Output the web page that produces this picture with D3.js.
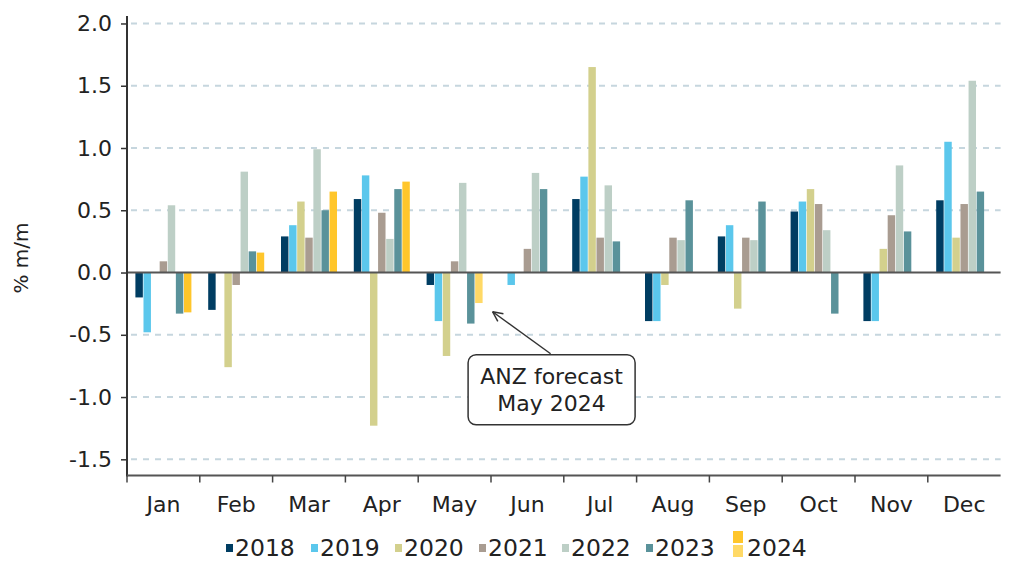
<!DOCTYPE html>
<html>
<head>
<meta charset="utf-8">
<script src="https://cdn.jsdelivr.net/npm/d3@7"></script>
<style>
  html, body { margin: 0; padding: 0; background: #fff; }
  svg { display: block; font-family: "DejaVu Sans", Verdana, sans-serif; }
</style>
</head>
<body>
<svg id="chart" width="1009" height="561"></svg>
<script>
const months = ["Jan","Feb","Mar","Apr","May","Jun","Jul","Aug","Sep","Oct","Nov","Dec"];
const years = ["2018","2019","2020","2021","2022","2023","2024"];
const v2018 = [-0.20, -0.30, 0.29, 0.59, -0.10, 0.00, 0.59, -0.39, 0.29, 0.49, -0.39, 0.58];
const v2019 = [-0.48, 0.00, 0.38, 0.78, -0.39, -0.10, 0.77, -0.39, 0.38, 0.57, -0.39, 1.05];
const v2020 = [0.00, -0.76, 0.57, -1.23, -0.67, 0.00, 1.65, -0.10, -0.29, 0.67, 0.19, 0.28];
const v2021 = [0.09, -0.10, 0.28, 0.48, 0.09, 0.19, 0.28, 0.28, 0.28, 0.55, 0.46, 0.55];
const v2022 = [0.54, 0.81, 0.99, 0.27, 0.72, 0.80, 0.70, 0.26, 0.26, 0.34, 0.86, 1.54];
const v2023 = [-0.33, 0.17, 0.50, 0.67, -0.41, 0.67, 0.25, 0.58, 0.57, -0.33, 0.33, 0.65];
const v2024 = [-0.32, 0.16, 0.65, 0.73, -0.245, null, null, null, null, null, null, null];
const forecastMonths2024 = ["May"];
const yTicks = [-1.5, -1.0, -0.5, 0.0, 0.5, 1.0, 1.5, 2.0];
const yTitle = "% m/m";
const calloutLines = ["ANZ forecast", "May 2024"];

const seriesValues = { "2018": v2018, "2019": v2019, "2020": v2020, "2021": v2021, "2022": v2022, "2023": v2023, "2024": v2024 };
const colors = { "2018": "#003D62", "2019": "#5BC7EC", "2020": "#D3D08D", "2021": "#A99C91", "2022": "#BDCFC6", "2023": "#5A929A", "2024": "#FFC62B" };
const forecastColor = "#FFD966";

const svg = d3.select("#chart");
const mLeft = 127, mRight = 1000.6, mTop = 16, mBottom = 475.5;

const x0 = d3.scaleBand().domain(months).range([mLeft, mRight]).padding(0);
const x1 = d3.scaleBand().domain(years).range([8.4, x0.bandwidth() - 8.4]).paddingInner(0.08);
const y = d3.scaleLinear().domain([-1.63, 2.06]).range([mBottom, mTop]);

// gridlines
svg.append("g").selectAll("line").data(yTicks.filter(d => d !== 0)).join("line")
  .attr("x1", mLeft + 4).attr("x2", mRight)
  .attr("y1", d => y(d)).attr("y2", d => y(d))
  .attr("stroke", "#C6D6DE").attr("stroke-width", 2).attr("stroke-dasharray", "6,6");

// bars
const data = [];
months.forEach((m, i) => {
  years.forEach(yr => {
    const v = seriesValues[yr][i];
    if (v !== null && v !== 0) data.push({ m, yr, v, fc: yr === "2024" && forecastMonths2024.includes(m) });
  });
});
svg.append("g").selectAll("rect").data(data).join("rect")
  .attr("x", d => x0(d.m) + x1(d.yr))
  .attr("width", x1.bandwidth())
  .attr("y", d => y(Math.max(0, d.v)))
  .attr("height", d => Math.abs(y(d.v) - y(0)))
  .attr("fill", d => d.fc ? forecastColor : colors[d.yr]);

// zero line
svg.append("line").attr("x1", mLeft).attr("x2", mRight).attr("y1", y(0)).attr("y2", y(0))
  .attr("stroke", "#555").attr("stroke-width", 2);

// y axis
const fmt = d => d3.format(".1f")(d).replace("\u2212", "-");
const yAxis = svg.append("g").attr("transform", `translate(${mLeft},0)`)
  .call(d3.axisLeft(y).tickValues(yTicks).tickFormat(fmt).tickSize(6).tickPadding(9));
yAxis.select(".domain").remove();
yAxis.selectAll(".tick line").attr("stroke", "#333").attr("stroke-width", 1.5);
yAxis.selectAll(".tick text").attr("font-size", 22).attr("fill", "#222").attr("font-family", "DejaVu Sans");
svg.append("line").attr("x1", mLeft).attr("x2", mLeft).attr("y1", mTop).attr("y2", mBottom + 1)
  .attr("stroke", "#333").attr("stroke-width", 2);

// x axis
const xAxisG = svg.append("g").attr("transform", `translate(0,${mBottom})`);
xAxisG.append("line").attr("x1", mLeft).attr("x2", mRight).attr("stroke", "#555").attr("stroke-width", 2);
xAxisG.selectAll("line.tk").data(months).join("line").attr("class", "tk")
  .attr("x1", d => x0(d)).attr("x2", d => x0(d)).attr("y1", 0).attr("y2", 7)
  .attr("stroke", "#444").attr("stroke-width", 1.5);
xAxisG.selectAll("text").data(months).join("text")
  .attr("x", d => x0(d) + x0.bandwidth() / 2).attr("y", 36)
  .attr("text-anchor", "middle").attr("font-size", 22).attr("fill", "#222").text(d => d);

// y title
svg.append("text").attr("transform", "translate(28,258) rotate(-90)")
  .attr("text-anchor", "middle").attr("font-size", 20).attr("fill", "#222").text(yTitle);

// legend
const legendX = [226, 311, 395, 479, 562, 646, 733];
const lg = svg.append("g");
years.forEach((yr, i) => {
  const gx = legendX[i];
  if (yr === "2024") {
    lg.append("rect").attr("x", gx).attr("y", 531).attr("width", 10).attr("height", 12).attr("fill", colors[yr]);
    lg.append("rect").attr("x", gx).attr("y", 545).attr("width", 10).attr("height", 12).attr("fill", forecastColor);
  } else {
    lg.append("rect").attr("x", gx).attr("y", 544).attr("width", 7).attr("height", 8).attr("fill", colors[yr]);
  }
  lg.append("text").attr("x", gx + (yr === "2024" ? 14 : 9)).attr("y", 556)
    .attr("font-size", 23.5).attr("fill", "#222").text(yr);
});

// callout
const fcIdx = months.indexOf(forecastMonths2024[0]);
const tipX = x0(forecastMonths2024[0]) + x1("2024") + x1.bandwidth() + 10;
const tipY = y(v2024[fcIdx] - 0.07);
const tailX = tipX + 58, tailY = tipY + 42;
const ann = svg.append("g");
ann.append("line").attr("x1", tailX).attr("y1", tailY).attr("x2", tipX).attr("y2", tipY)
  .attr("stroke", "#333").attr("stroke-width", 1.5);
const ang = Math.atan2(tailY - tipY, tailX - tipX);
[0.45, -0.45].forEach(da => {
  ann.append("line").attr("x1", tipX).attr("y1", tipY)
    .attr("x2", tipX + 11 * Math.cos(ang + da)).attr("y2", tipY + 11 * Math.sin(ang + da))
    .attr("stroke", "#333").attr("stroke-width", 1.5);
});
const boxW = 167, boxH = 70;
ann.append("rect").attr("x", tailX - boxW / 2 + 1).attr("y", tailY + 1).attr("width", boxW).attr("height", boxH)
  .attr("rx", 8).attr("fill", "#fff").attr("stroke", "#333").attr("stroke-width", 1.5);
calloutLines.forEach((t, i) => {
  ann.append("text").attr("x", tailX + 1).attr("y", tailY + 30 + i * 27.5)
    .attr("text-anchor", "middle").attr("font-size", 22).attr("fill", "#222").text(t);
});
</script>
</body>
</html>
